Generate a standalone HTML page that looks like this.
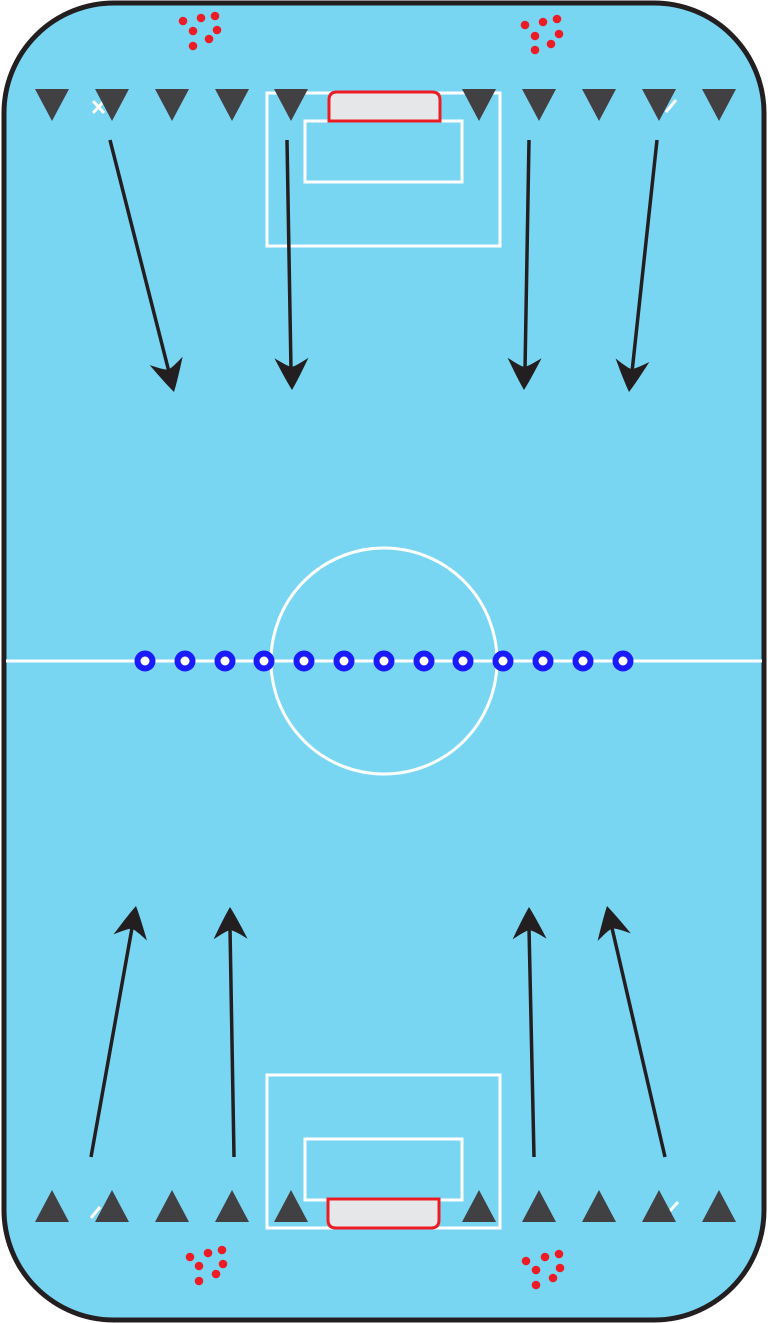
<!DOCTYPE html>
<html><head><meta charset="utf-8"><style>html,body{margin:0;padding:0;background:#fff}svg{display:block}</style></head>
<body>
<svg width="768" height="1323" viewBox="0 0 768 1323" xmlns="http://www.w3.org/2000/svg">
<defs>
<path id="ah" d="M0,0 C-10,-6 -22,-12 -32,-17 C-27,-9 -24,-4 -23,0 C-24,4 -27,9 -32,17 C-22,12 -10,6 0,0 Z" fill="#231f20"/>
<polygon id="td" points="-17,0 17,0 0,32" fill="#414042"/>
<polygon id="tu" points="-17,0 17,0 0,-32" fill="#414042"/>
</defs>
<rect x="4" y="3" width="760" height="1317" rx="110" ry="110" fill="#79d6f3" stroke="#231f20" stroke-width="5"/>
<g fill="none" stroke="#fff" stroke-width="3">
<line x1="6" y1="661" x2="762" y2="661"/>
<circle cx="384" cy="661" r="113"/>
<rect x="267" y="93" width="233" height="153"/>
<rect x="305" y="121" width="157" height="61"/>
<rect x="267" y="1075" width="233" height="153"/>
<rect x="305" y="1139" width="157" height="61"/>
<path d="M93,113 L104,101 M93,101 L104,113"/>
<path d="M666,112 L676,100"/>
<path d="M91,1218 L100,1207"/>
<path d="M668,1213 L678,1202"/>
</g>
<path d="M329,121 L329,100 Q329,92 337,92 L432,92 Q440,92 440,100 L440,121 Z" fill="#e6e7e8" stroke="#ed1c24" stroke-width="3"/>
<path d="M328,1199 L328,1220 Q328,1228 336,1228 L431,1228 Q439,1228 439,1220 L439,1199 Z" fill="#e6e7e8" stroke="#ed1c24" stroke-width="3"/>
<g>
<use href="#td" x="52" y="89"/><use href="#td" x="112" y="89"/><use href="#td" x="172" y="89"/><use href="#td" x="232" y="89"/><use href="#td" x="291" y="89"/>
<use href="#td" x="479" y="89"/><use href="#td" x="539" y="89"/><use href="#td" x="599" y="89"/><use href="#td" x="659" y="89"/><use href="#td" x="719" y="89"/>
<use href="#tu" x="52" y="1222"/><use href="#tu" x="112" y="1222"/><use href="#tu" x="172" y="1222"/><use href="#tu" x="232" y="1222"/><use href="#tu" x="291" y="1222"/>
<use href="#tu" x="479" y="1222"/><use href="#tu" x="539" y="1222"/><use href="#tu" x="599" y="1222"/><use href="#tu" x="659" y="1222"/><use href="#tu" x="719" y="1222"/>
</g>
<g stroke="#231f20" stroke-width="3.5">
<line x1="110" y1="140" x2="169" y2="372"/>
<line x1="287" y1="140" x2="291" y2="370"/>
<line x1="529" y1="140" x2="525" y2="370"/>
<line x1="657" y1="140" x2="632" y2="372"/>
<line x1="91" y1="1157" x2="132" y2="928"/>
<line x1="234" y1="1157" x2="230" y2="928"/>
<line x1="534" y1="1157" x2="529" y2="928"/>
<line x1="665" y1="1157" x2="612" y2="928"/>
</g>
<use href="#ah" transform="translate(174,392) rotate(75.8)"/>
<use href="#ah" transform="translate(292,390) rotate(89)"/>
<use href="#ah" transform="translate(524,390) rotate(91)"/>
<use href="#ah" transform="translate(629,392) rotate(96.2)"/>
<use href="#ah" transform="translate(136,906) rotate(-79.6)"/>
<use href="#ah" transform="translate(230,907) rotate(-91)"/>
<use href="#ah" transform="translate(529,907) rotate(-91.1)"/>
<use href="#ah" transform="translate(607,906) rotate(-103)"/>
<g fill="#fff" stroke="#1a1aff" stroke-width="6">
<circle cx="145" cy="661" r="7.5"/><circle cx="185" cy="661" r="7.5"/><circle cx="225" cy="661" r="7.5"/><circle cx="264" cy="661" r="7.5"/><circle cx="304" cy="661" r="7.5"/><circle cx="344" cy="661" r="7.5"/><circle cx="384" cy="661" r="7.5"/><circle cx="424" cy="661" r="7.5"/><circle cx="463" cy="661" r="7.5"/><circle cx="503" cy="661" r="7.5"/><circle cx="543" cy="661" r="7.5"/><circle cx="583" cy="661" r="7.5"/><circle cx="623" cy="661" r="7.5"/>
</g>
<g fill="#ed1c24">
<circle cx="183" cy="21" r="4.3"/><circle cx="201" cy="18" r="4.3"/><circle cx="215" cy="16" r="4.3"/><circle cx="193" cy="31" r="4.3"/><circle cx="217" cy="30" r="4.3"/><circle cx="209" cy="39" r="4.3"/><circle cx="193" cy="46" r="4.3"/>
<circle cx="525" cy="25" r="4.3"/><circle cx="543" cy="22" r="4.3"/><circle cx="557" cy="19" r="4.3"/><circle cx="535" cy="36" r="4.3"/><circle cx="559" cy="34" r="4.3"/><circle cx="551" cy="44" r="4.3"/><circle cx="535" cy="50" r="4.3"/>
<circle cx="190" cy="1257" r="4.3"/><circle cx="208" cy="1253" r="4.3"/><circle cx="222" cy="1250" r="4.3"/><circle cx="199" cy="1266" r="4.3"/><circle cx="223" cy="1264" r="4.3"/><circle cx="216" cy="1274" r="4.3"/><circle cx="199" cy="1281" r="4.3"/>
<circle cx="526" cy="1261" r="4.3"/><circle cx="545" cy="1257" r="4.3"/><circle cx="559" cy="1254" r="4.3"/><circle cx="536" cy="1270" r="4.3"/><circle cx="560" cy="1268" r="4.3"/><circle cx="553" cy="1278" r="4.3"/><circle cx="536" cy="1285" r="4.3"/>
</g>
</svg>
</body></html>
